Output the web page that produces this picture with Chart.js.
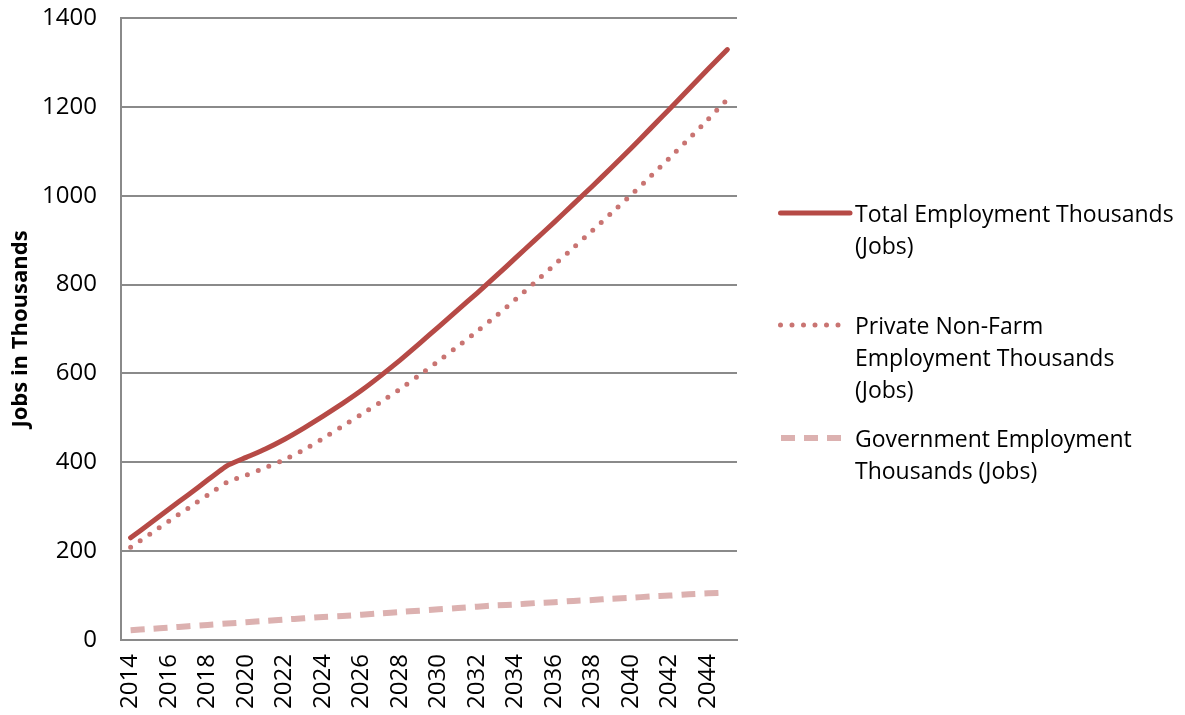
<!DOCTYPE html>
<html>
<head>
<meta charset="utf-8">
<title>Employment projection</title>
<script src="https://cdn.jsdelivr.net/npm/chart.js@4/dist/chart.umd.min.js"></script>
<style>
    body { margin: 0; background: #fff; }
    #wrap { position: relative; width: 1185px; height: 715px; }
    #legend { position: absolute; left: 0; top: 0; font-family: "Open Sans", sans-serif; font-size: 23px; color: #000; }
    .item { position: absolute; left: 778px; }
    .item svg { position: absolute; left: 0; top: 0; }
    .item .txt { position: absolute; left: 77px; top: 0; width: 340px; line-height: 32px; white-space: nowrap; }
</style>
</head>
<body>
<div id="wrap">
    <canvas id="chart" width="1185" height="715"></canvas>
    <div id="legend"></div>
</div>
<script>
// -- Data --
const years = [];
for (let y = 2014; y <= 2045; y++) years.push(String(y));

const totalJobs = [230, 262, 295, 327, 360, 392, 411, 430, 452, 477, 504, 532, 562, 595, 630, 667,
    705, 743, 781, 820, 860, 900, 940, 981, 1022, 1064, 1107, 1151, 1195, 1240, 1285, 1329];
const privateJobs = [209, 238, 268, 297, 326, 355, 371, 388, 406, 428, 454, 481, 508, 536, 565, 596,
    628, 661, 695, 730, 767, 805, 844, 883, 922, 962, 1002, 1043, 1085, 1128, 1172, 1217];
const govJobs = [22, 25, 28, 31, 34, 37, 40, 43, 46, 49, 52, 54, 57, 60, 63, 66,
    69, 72, 75, 78, 80, 83, 85, 88, 90, 93, 95, 98, 100, 103, 105, 107];

const seriesNames = [
    ['Total Employment Thousands', '(Jobs)'],
    ['Private Non-Farm', 'Employment Thousands', '(Jobs)'],
    ['Government Employment', 'Thousands (Jobs)']
];
const yTicks = [0, 200, 400, 600, 800, 1000, 1200, 1400];

// -- Styles --
const FONT = '"Open Sans", sans-serif';
const GRID = '#8a8a8a';
const styles = [
    { color: '#b64a46', width: 5, dash: [], cap: 'round' },
    { color: '#c97472', width: 5, dash: [0, 11.5], cap: 'round' },
    { color: '#dcb1b0', width: 6, dash: [14, 9], cap: 'butt' }
];
const legendTops = [197, 309, 422];

// -- Chart --
const ctx = document.getElementById('chart').getContext('2d');
const chart = new Chart(ctx, {
    type: 'line',
    data: {
        labels: years,
        datasets: [totalJobs, privateJobs, govJobs].map((d, i) => ({
            label: seriesNames[i].join(' '),
            data: d,
            borderColor: styles[i].color,
            borderWidth: styles[i].width,
            borderDash: styles[i].dash,
            borderCapStyle: styles[i].cap,
            borderJoinStyle: 'round',
            pointRadius: 0,
            tension: 0.15,
            fill: false
        }))
    },
    options: {
        responsive: false,
        animation: false,
        layout: { padding: { top: 18, right: 448, left: 8, bottom: 0 } },
        plugins: {
            legend: { display: false },
            tooltip: { enabled: false }
        },
        scales: {
            x: {
                offset: true,
                grid: { display: false, drawTicks: false },
                border: { color: GRID, width: 2 },
                ticks: {
                    autoSkip: false,
                    minRotation: 90,
                    maxRotation: 90,
                    padding: 14,
                    color: '#000',
                    font: { family: FONT, size: 24 },
                    callback: (v, i) => (i % 2 === 0 ? years[i] : '')
                },
                afterFit: (scale) => { scale.height = 75; }
            },
            y: {
                min: 0,
                max: 1400,
                afterBuildTicks: (scale) => { scale.ticks = yTicks.map(v => ({ value: v })); },
                grid: { color: GRID, lineWidth: 2, drawTicks: false },
                border: { color: GRID, width: 2 },
                ticks: {
                    padding: 24,
                    color: '#000',
                    font: { family: FONT, size: 24 },
                    callback: (v) => String(v)
                },
                title: {
                    display: true,
                    text: 'Jobs in Thousands',
                    color: '#000',
                    font: { family: FONT, size: 22, weight: 'bold' },
                    padding: 0
                },
                afterFit: (scale) => {
                    scale.width = 113;
                    scale.paddingTop = 0;
                    scale.paddingBottom = 0;
                }
            }
        }
    }
});

// -- Legend (HTML, wrapped like the original) --
function buildLegend() {
    const legend = document.getElementById('legend');
    const lengths = [72, 66, 64];
    legend.innerHTML = styles.map((s, i) => {
        const dash = s.dash.length ? `stroke-dasharray="${s.dash.join(' ')}"` : '';
        return `<div class="item" style="top:${legendTops[i]}px">
            <svg width="76" height="32"><line x1="${s.width / 2}" y1="16" x2="${lengths[i]}" y2="16"
                stroke="${s.color}" stroke-width="${s.width}" stroke-linecap="${s.cap}" ${dash}/></svg>
            <div class="txt">${seriesNames[i].join('<br>')}</div>
        </div>`;
    }).join('');
}

buildLegend();
</script>
</body>
</html>
